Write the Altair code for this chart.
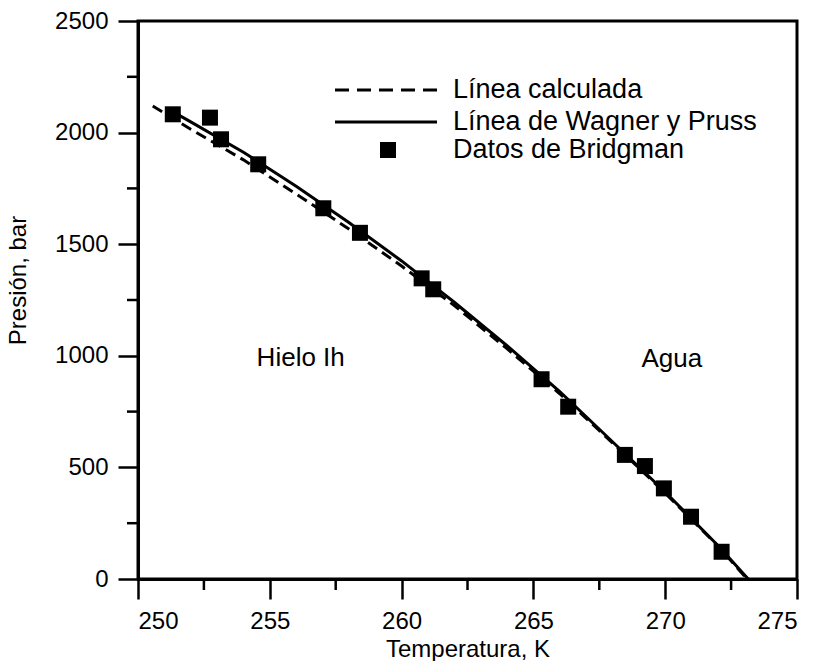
import altair as alt
import pandas as pd

# Línea calculada (dashed)
calc_T = [250.56, 252, 254, 256, 258, 260, 262, 264, 266, 268, 270, 272, 273.1]
calc_P = [2119, 2015, 1878, 1725, 1568, 1402, 1225, 1032, 830, 610, 385, 148, 0]

# Línea de Wagner y Pruss (solid)
wp_T = [251.3, 252, 254, 256, 258, 260, 262, 264, 266, 268, 270, 272, 273.15]
wp_P = [2095, 2048, 1912, 1760, 1597, 1425, 1240, 1045, 840, 615, 390, 150, 0]

# Datos de Bridgman (squares)
bg_T = [251.32, 252.73, 253.15, 254.56, 257.03, 258.42, 260.76, 261.2,
        265.31, 266.32, 268.47, 269.23, 269.95, 270.98, 272.14]
bg_P = [2082, 2067, 1970, 1858, 1661, 1551, 1347, 1298,
        895, 772, 556, 506, 406, 279, 122]

x_major = [250, 255, 260, 265, 270, 275]
x_minor = [252.5, 257.5, 262.5, 267.5, 272.5]
y_major = [0, 500, 1000, 1500, 2000, 2500]
y_minor = [250, 750, 1250, 1750, 2250]

legend_labels = ["Línea calculada", "Línea de Wagner y Pruss", "Datos de Bridgman"]
region_labels = ["Hielo Ih", "Agua"]
region_T = [254.5, 269.1]
region_P = [990, 985]

FONT = "Liberation Sans"
FS = 24

calc_df = pd.DataFrame({"T": calc_T, "P": calc_P})
wp_df = pd.DataFrame({"T": wp_T, "P": wp_P})
bg_df = pd.DataFrame({"T": bg_T, "P": bg_P})
reg_df = pd.DataFrame({"T": region_T, "P": region_P, "label": region_labels})

xscale = alt.Scale(domain=[250, 275], nice=False, zero=False)
yscale = alt.Scale(domain=[0, 2500], nice=False)

x_axis = alt.Axis(
    title="Temperatura, K", values=x_major, format="d", tickSize=20,
    grid=False, domainColor="black", domainWidth=3, tickColor="black", tickWidth=2.5,
    labelFont=FONT, labelFontSize=FS, labelColor="black", labelPadding=10,
    titleFont=FONT, titleFontSize=FS, titleFontWeight="normal", titleColor="black",
    titleBaseline="middle", titleY=70,
)
y_axis = alt.Axis(
    title="Presión, bar", values=y_major, format="d", tickSize=20,
    grid=False, domainColor="black", domainWidth=3, tickColor="black", tickWidth=2.5,
    labelFont=FONT, labelFontSize=FS, labelColor="black", labelPadding=10,
    titleFont=FONT, titleFontSize=FS, titleFontWeight="normal", titleColor="black",
    titleAngle=270, titleBaseline="middle", titleX=-120, titleY=259,
)

calc_line = alt.Chart(calc_df).mark_line(
    color="black", strokeWidth=3, strokeDash=[11, 6]
).encode(
    x=alt.X("T:Q", scale=xscale, axis=x_axis),
    y=alt.Y("P:Q", scale=yscale, axis=y_axis),
)
wp_line = alt.Chart(wp_df).mark_line(color="black", strokeWidth=3).encode(
    x=alt.X("T:Q", scale=xscale), y=alt.Y("P:Q", scale=yscale)
)
points = alt.Chart(bg_df).mark_square(color="black", opacity=1, size=256).encode(
    x=alt.X("T:Q", scale=xscale), y=alt.Y("P:Q", scale=yscale)
)
regions = alt.Chart(reg_df).mark_text(
    font=FONT, fontSize=26, align="left", baseline="middle", color="black"
).encode(
    x=alt.X("T:Q", scale=xscale), y=alt.Y("P:Q", scale=yscale), text="label:N"
)

# minor ticks
xminor = alt.Chart(pd.DataFrame({"v": x_minor})).mark_rule(color="black", strokeWidth=2.5).encode(
    x=alt.X("v:Q", scale=xscale), y=alt.value(558), y2=alt.value(569)
)
yminor = alt.Chart(pd.DataFrame({"v": y_minor})).mark_rule(color="black", strokeWidth=2.5).encode(
    y=alt.Y("v:Q", scale=yscale), x=alt.value(0), x2=alt.value(-11)
)

# manual legend
one = pd.DataFrame({"k": [0]})
leg_dash = alt.Chart(one).mark_rule(color="black", strokeWidth=3, strokeDash=[14, 8]).encode(
    x=alt.value(197), x2=alt.value(299), y=alt.value(69)
)
leg_solid = alt.Chart(one).mark_rule(color="black", strokeWidth=3).encode(
    x=alt.value(197), x2=alt.value(299), y=alt.value(101)
)
leg_sq = alt.Chart(one).mark_square(color="black", opacity=1, size=256).encode(
    x=alt.value(250), y=alt.value(129)
)
leg_text = alt.Chart(pd.DataFrame({"label": legend_labels, "yy": [69, 101, 129]})).mark_text(
    font=FONT, fontSize=27, align="left", baseline="middle", color="black"
).encode(
    x=alt.value(315), y=alt.Y("yy:Q", scale=None), text="label:N"
)

chart = alt.layer(
    calc_line, wp_line, points, regions, xminor, yminor,
    leg_dash, leg_solid, leg_sq, leg_text
).properties(
    width=659, height=558,
    autosize=alt.AutoSizeParams(type="none"),
    padding={"left": 138, "top": 21, "right": 26, "bottom": 82},
    background="white",
).configure_view(stroke="black", strokeWidth=3)

chart.save("out.html", embed_options={"renderer": "svg", "actions": False})
